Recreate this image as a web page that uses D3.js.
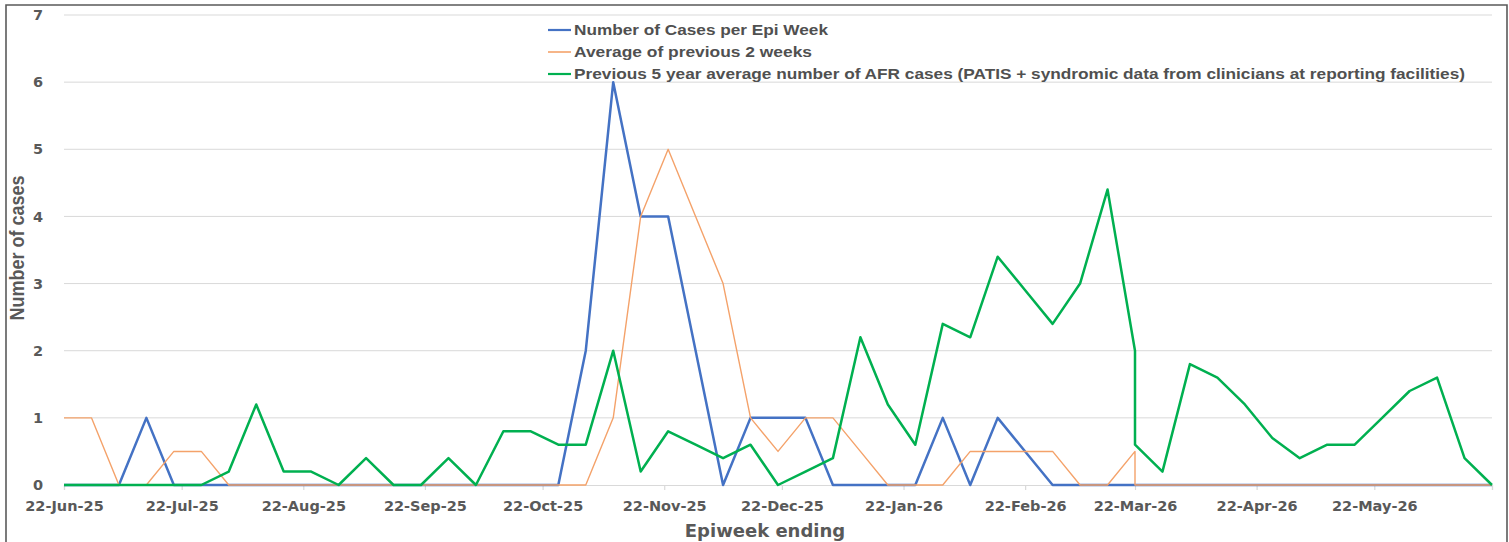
<!DOCTYPE html>
<html>
<head>
<meta charset="utf-8">
<script src="https://cdn.jsdelivr.net/npm/d3@7"></script>
<style>
  html, body { margin: 0; padding: 0; background: #ffffff; }
  svg { display: block; }
</style>
</head>
<body>
<svg id="chart" width="1509" height="542"></svg>
<script>
// ---------------- DATA ----------------
const weekEnding = [
  "2025-06-22","2025-06-29","2025-07-06","2025-07-13","2025-07-20","2025-07-27",
  "2025-08-03","2025-08-10","2025-08-17","2025-08-24","2025-08-31","2025-09-07",
  "2025-09-14","2025-09-21","2025-09-28","2025-10-05","2025-10-12","2025-10-19",
  "2025-10-26","2025-11-02","2025-11-09","2025-11-16","2025-11-23","2025-11-30",
  "2025-12-07","2025-12-14","2025-12-21","2025-12-28","2026-01-04","2026-01-11",
  "2026-01-18","2026-01-25","2026-02-01","2026-02-08","2026-02-15","2026-02-22",
  "2026-03-01","2026-03-08","2026-03-15","2026-03-22","2026-03-22","2026-03-29",
  "2026-04-05","2026-04-12","2026-04-19","2026-04-26","2026-05-03","2026-05-10",
  "2026-05-17","2026-05-24","2026-05-31","2026-06-07","2026-06-14","2026-06-21"
];
const casesPerWeek = [
  0,0,0,1,0,0, 0,0,0,0,0,0, 0,0,0,0,0,0,
  0,2,6,4,4,2, 0,1,1,1,0,0, 0,0,1,0,1,0.5,
  0,0,0,0,0,0, 0,0,0,0,0,0, 0,0,0,0,0,0
];
const avgPrev2Weeks = [
  1,1,0,0,0.5,0.5, 0,0,0,0,0,0, 0,0,0,0,0,0,
  0,0,1,4,5,4, 3,1,0.5,1,1,0.5, 0,0,0,0.5,0.5,0.5,
  0.5,0,0,0.5,0,0, 0,0,0,0,0,0, 0,0,0,0,0,0
];
const prev5YearAvg = [
  0,0,0,0,0,0, 0.2,1.2,0.2,0.2,0,0.4, 0,0,0.4,0,0.8,0.8,
  0.6,0.6,2,0.2,0.8,0.6, 0.4,0.6,0,0.2,0.4,2.2, 1.2,0.6,2.4,2.2,3.4,2.9,
  2.4,3,4.4,2,0.6,0.2, 1.8,1.6,1.2,0.7,0.4,0.6, 0.6,1,1.4,1.6,0.4,0
];
const xTickLabels = ["22-Jun-25","22-Jul-25","22-Aug-25","22-Sep-25","22-Oct-25","22-Nov-25",
                     "22-Dec-25","22-Jan-26","22-Feb-26","22-Mar-26","22-Apr-26","22-May-26"];
const yTickValues = [0,1,2,3,4,5,6,7];
const seriesNames = [
  "Number of Cases per Epi Week",
  "Average of previous 2 weeks",
  "Previous 5 year average number of AFR cases (PATIS + syndromic data from clinicians at reporting facilities)"
];
const axisTitleX = "Epiweek ending";
const axisTitleY = "Number of cases";

// ---------------- CHART ----------------
const svg = d3.select("#chart");
const parseISO = d3.timeParse("%Y-%m-%d");
const parseTick = d3.timeParse("%d-%b-%y");
const dates = weekEnding.map(parseISO);

const plot = { left: 64, right: 1492, top: 15, bottom: 485 };
const x = d3.scaleTime().domain([dates[0], dates[dates.length - 1]]).range([plot.left, plot.right]);
const y = d3.scaleLinear().domain([0, 7]).range([plot.bottom, plot.top]);

const textGray = "#595959";
const gridGray = "#d9d9d9";

// outer frame
svg.append("path")
  .attr("d", "M6,545 V5 H1507 V545")
  .attr("fill", "none").attr("stroke", "#5a5a5a").attr("stroke-width", 1.6);

// gridlines
svg.append("g")
  .selectAll("line").data(yTickValues.filter(v => v > 0)).join("line")
  .attr("x1", plot.left).attr("x2", plot.right)
  .attr("y1", d => y(d)).attr("y2", d => y(d))
  .attr("stroke", gridGray).attr("stroke-width", 1);

// y tick labels
const yAxis = svg.append("g").attr("transform", `translate(${plot.left},0)`)
  .call(d3.axisLeft(y).tickValues(yTickValues).tickSize(0).tickPadding(21).tickFormat(d3.format("d")));
yAxis.select(".domain").remove();
yAxis.selectAll("text")
  .attr("fill", textGray)
  .style("font-family", "'DejaVu Sans', Verdana, sans-serif")
  .style("font-weight", "bold").style("font-size", "14.5px");

// x axis
const tickDates = xTickLabels.map(parseTick);
const xAxis = svg.append("g").attr("transform", `translate(0,${plot.bottom})`)
  .call(d3.axisBottom(x).tickValues(tickDates.concat([dates[dates.length - 1]]))
    .tickSize(5).tickPadding(11)
    .tickFormat((d, i) => i < xTickLabels.length ? xTickLabels[i] : ""));
xAxis.select(".domain").attr("stroke", gridGray).attr("stroke-width", 1.2);
xAxis.selectAll(".tick line").attr("stroke", gridGray).attr("stroke-width", 1.2);
xAxis.selectAll("text")
  .attr("fill", textGray)
  .style("font-family", "'DejaVu Sans', Verdana, sans-serif")
  .style("font-weight", "bold").style("font-size", "14.5px");

// axis titles
svg.append("text")
  .attr("x", 765).attr("y", 537).attr("text-anchor", "middle")
  .attr("fill", textGray)
  .style("font-family", "'DejaVu Sans', Verdana, sans-serif")
  .style("font-weight", "bold").style("font-size", "18px")
  .text(axisTitleX);

svg.append("text")
  .attr("transform", "translate(24,248) rotate(-90)")
  .attr("text-anchor", "middle")
  .attr("fill", textGray)
  .attr("textLength", 145).attr("lengthAdjust", "spacingAndGlyphs")
  .style("font-family", "'Liberation Sans Narrow', 'Liberation Sans', Arial, sans-serif")
  .style("font-weight", "bold").style("font-size", "21px")
  .text(axisTitleY);

// series lines
const seriesData = [casesPerWeek, avgPrev2Weeks, prev5YearAvg];
const colors = ["#4472C4", "#F4A26A", "#00B050"];
const widths = [2.5, 1.4, 2.5];
const line = d3.line().x(d => x(d.date)).y(d => y(d.value));

seriesData.forEach((vals, s) => {
  const pts = vals.map((v, i) => ({ date: dates[i], value: v }));
  svg.append("path")
    .datum(pts)
    .attr("d", line)
    .attr("fill", "none")
    .attr("stroke", colors[s])
    .attr("stroke-width", widths[s])
    .attr("stroke-linejoin", "round");
});

// legend
const legendX = 548;
const legendYs = [30, 52, 74];
const legendLens = [254, 238, 891];
const lg = svg.append("g");
seriesNames.forEach((name, i) => {
  lg.append("line")
    .attr("x1", legendX).attr("x2", legendX + 23)
    .attr("y1", legendYs[i]).attr("y2", legendYs[i])
    .attr("stroke", colors[i]).attr("stroke-width", i === 1 ? 1.6 : 2.2);
  lg.append("text")
    .attr("x", legendX + 26).attr("y", legendYs[i])
    .attr("dy", "0.35em")
    .attr("fill", "#505050")
    .attr("textLength", legendLens[i]).attr("lengthAdjust", "spacingAndGlyphs")
    .style("font-family", "'Liberation Sans Narrow', 'Liberation Sans', Arial, sans-serif")
    .style("font-weight", "bold").style("font-size", "15px")
    .text(name);
});
</script>
</body>
</html>
